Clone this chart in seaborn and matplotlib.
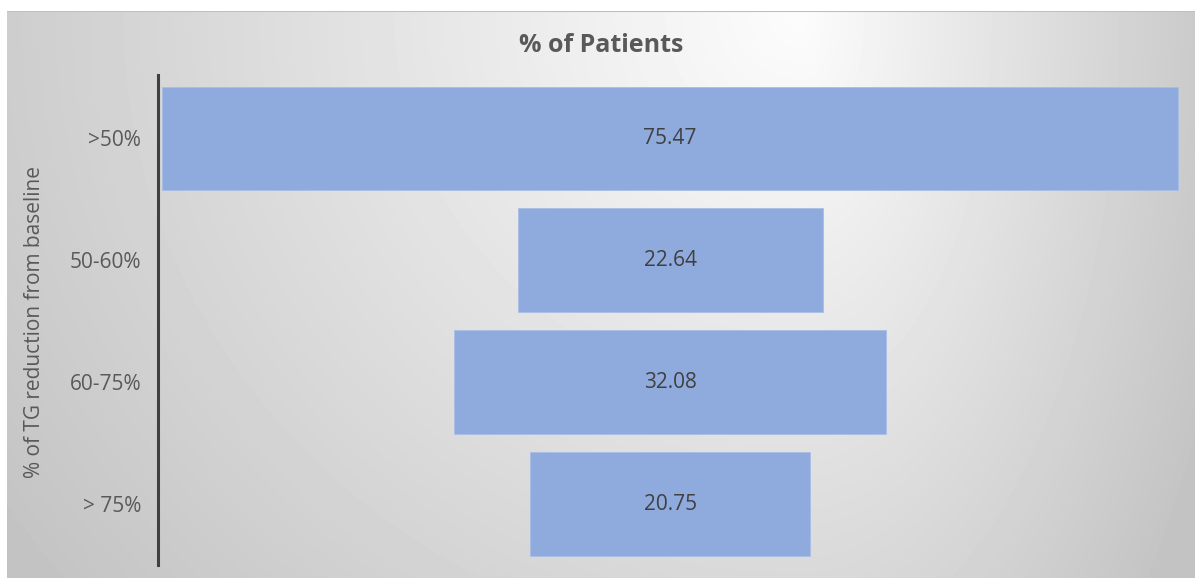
import numpy as np
import matplotlib
matplotlib.use("Agg")
import matplotlib.pyplot as plt
import seaborn as sns

# data
categories = [">50%", "50-60%", "60-75%", "> 75%"]
patients_pct = [75.47, 22.64, 32.08, 20.75]

title = "% of Patients"
ylabel = "% of TG reduction from baseline"

bar_color = "#8FAADC"
text_color = "#595959"

sns.set_style("white")
plt.rcParams["font.family"] = ["Open Sans", "DejaVu Sans"]

W, H = 1195, 578
fig = plt.figure(figsize=(W / 100, H / 100), dpi=100)
fig.patch.set_facecolor("white")

# -----------------------------
# gradient chart-area background
# -----------------------------
bg_ax = fig.add_axes([7 / W, 0, 1 - 7 / W, (H - 11) / H])
xx, yy = np.meshgrid(np.arange(7, W), np.arange(11, H))
cx, cy = 800, 15
dx = np.where(xx < cx, (xx - cx) / 850, (xx - cx) / 400)
dy = (yy - cy) / 800
r = np.clip(np.sqrt(dx ** 2 + dy ** 2), 0, 1.15)
shade = (252 - 50 * r) / 255
bg_ax.imshow(shade, cmap="gray", vmin=0, vmax=1, aspect="auto",
             extent=[0, 1, 0, 1], origin="upper")
bg_ax.axhline(1, color="#BFBFBF", lw=1.5)
bg_ax.set_axis_off()

# -----------------------------
# funnel bars
# -----------------------------
ax = fig.add_axes([158 / W, 13 / H, 1022 / W, 490 / H])
ax.patch.set_alpha(0)

sns.barplot(x=patients_pct, y=categories, color=bar_color, saturation=1,
            width=0.85, ax=ax, edgecolor="#A9BEE5", linewidth=0.6)

# center every bar on the widest one
top = max(patients_pct)
for patch, v in zip(ax.patches, patients_pct):
    patch.set_x((top - v) / 2)
    ax.text(top / 2, patch.get_y() + patch.get_height() / 2, f"{v:.2f}",
            ha="center", va="center", fontsize=15, color="#404040")

ax.set_xlim(-0.3, 75.6)
ax.set_ylim(3.5, -0.52)
ax.set_xticks([])
ax.set_xlabel("")
ax.set_ylabel("")
ax.tick_params(axis="y", length=0, pad=12, labelsize=15, labelcolor=text_color)

for side in ["top", "right", "bottom"]:
    ax.spines[side].set_visible(False)
ax.spines["left"].set_color("#404040")
ax.spines["left"].set_linewidth(2.2)

fig.text(601 / W, 1 - 46 / H, title, ha="center", va="center",
         fontsize=18, fontweight="bold", color=text_color)
fig.text(35 / W, 1 - 322 / H, ylabel, ha="center", va="center",
         rotation=90, fontsize=15, color=text_color)

fig.savefig("out.png", dpi=100)
